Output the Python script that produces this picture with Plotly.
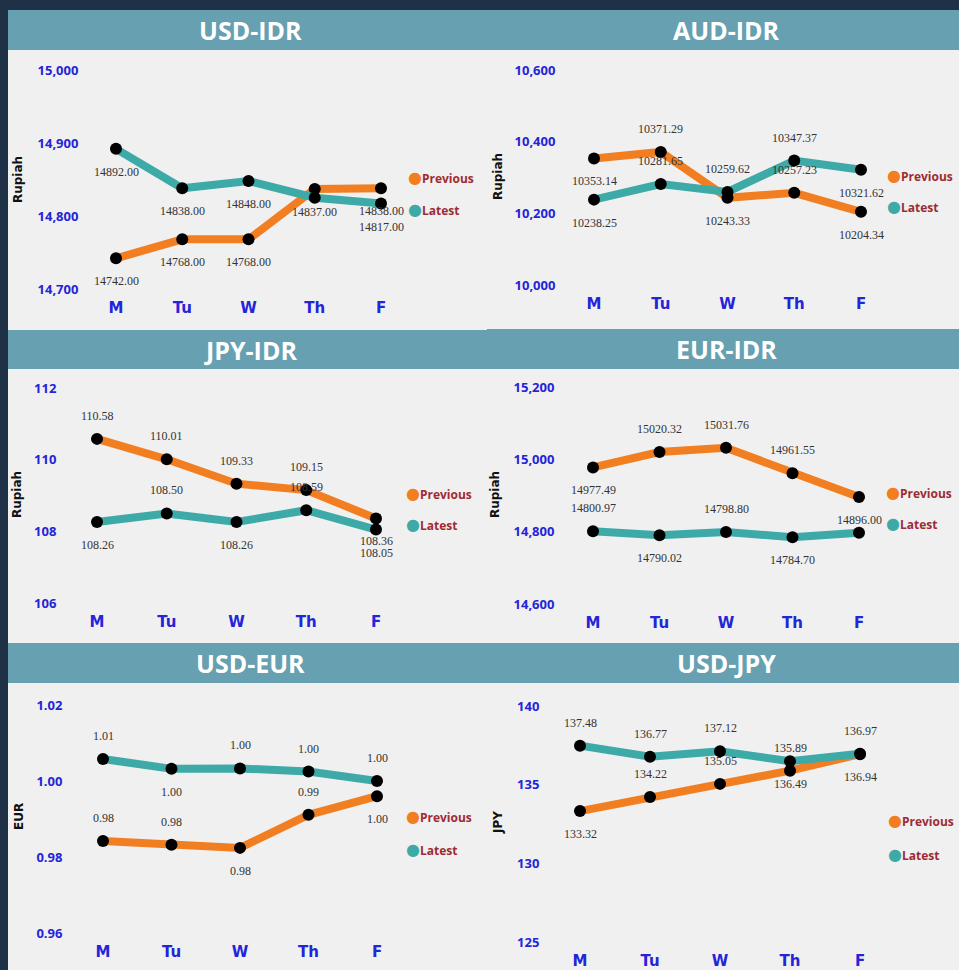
import plotly.graph_objects as go

# ---- data -------------------------------------------------------------
days = ["M", "Tu", "W", "Th", "F"]

usd_idr_prev = [14742.00, 14768.00, 14768.00, 14837.00, 14838.00]
usd_idr_latest = [14892.00, 14838.00, 14848.00, 14825.00, 14817.00]

aud_idr_prev = [10353.14, 10371.29, 10243.33, 10257.23, 10204.34]
aud_idr_latest = [10238.25, 10281.65, 10259.62, 10347.37, 10321.62]

jpy_idr_prev = [110.58, 110.01, 109.33, 109.15, 108.36]
jpy_idr_latest = [108.26, 108.50, 108.26, 108.59, 108.05]

eur_idr_prev = [14977.49, 15020.32, 15031.76, 14961.55, 14896.00]
eur_idr_latest = [14800.97, 14790.02, 14798.80, 14784.70, 14797.00]

usd_eur_prev = [0.9842, 0.9832, 0.9824, 0.9911, 0.9960]
usd_eur_latest = [1.0058, 1.0032, 1.0033, 1.0025, 1.0000]

usd_jpy_prev = [133.32, 134.22, 135.05, 135.89, 136.94]
usd_jpy_latest = [137.48, 136.77, 137.12, 136.49, 136.97]

titles = ["USD-IDR", "AUD-IDR", "JPY-IDR", "EUR-IDR", "USD-EUR", "USD-JPY"]
axis_titles = ["Rupiah", "Rupiah", "Rupiah", "Rupiah", "EUR", "JPY"]
series_names = ["Previous", "Latest"]
y_ticks = [
    [14700, 14800, 14900, 15000],
    [10000, 10200, 10400, 10600],
    [106, 108, 110, 112],
    [14600, 14800, 15000, 15200],
    [0.96, 0.98, 1.00, 1.02],
    [125, 130, 135, 140],
]
y_tickformats = [",", ",", "d", ",", ".2f", "d"]
label_decimals = [2, 2, 2, 2, 2, 2]

panel_series = [
    (usd_idr_prev, usd_idr_latest),
    (aud_idr_prev, aud_idr_latest),
    (jpy_idr_prev, jpy_idr_latest),
    (eur_idr_prev, eur_idr_latest),
    (usd_eur_prev, usd_eur_latest),
    (usd_jpy_prev, usd_jpy_latest),
]

# ---- styling ----------------------------------------------------------
W, H = 959, 970
BG_DARK = "#1f3146"
PANEL_BG = "#f0f0f0"
BAR_BG = "#67a1b1"
ORANGE = "#f27e22"
TEAL = "#3eaaa8"
TICK_BLUE = "#2424d8"
LEGEND_RED = "#9e2b32"
LABEL_GREY = "#333333"

# label placement per point: 1 = above, -1 = below, 0 = no label
label_side = [
    ([-1, -1, -1, -1, -1], [-1, -1, -1, 0, -1]),
    ([-1, 1, -1, 1, -1], [-1, 1, 1, 1, -1]),
    ([1, 1, 1, 1, -1], [-1, 1, -1, 1, -1]),
    ([-1, 1, 1, 1, -1], [1, -1, 1, -1, 0]),
    ([1, 1, -1, 1, -1], [1, -1, 1, 1, 1]),
    ([-1, 1, 1, 1, -1], [1, 1, 1, -1, 1]),
]

# panel geometry in pixels
panels = [
    dict(x0=8, x1=487, bar0=10, bar1=50, bg1=330, ytop=70, ybot=289, tickr=79,
         m=116, f=381, ytx=18, yty=180, lgx=413, lgy=(177, 209)),
    dict(x0=487, x1=959, bar0=10, bar1=50, bg1=330, ytop=70, ybot=285, tickr=556,
         m=594, f=861, ytx=498, yty=177, lgx=892, lgy=(175, 206)),
    dict(x0=8, x1=487, bar0=330, bar1=369, bg1=643, ytop=388, ybot=603, tickr=57,
         m=97, f=376, ytx=17, yty=495, lgx=411, lgy=(493, 524)),
    dict(x0=487, x1=959, bar0=329, bar1=369, bg1=643, ytop=387, ybot=604, tickr=555,
         m=593, f=859, ytx=495, yty=495, lgx=891, lgy=(492, 523)),
    dict(x0=8, x1=487, bar0=643, bar1=683, bg1=970, ytop=705, ybot=933, tickr=63,
         m=103, f=377, ytx=19, yty=817, lgx=411, lgy=(816, 849)),
    dict(x0=487, x1=959, bar0=643, bar1=683, bg1=970, ytop=706, ybot=942, tickr=540,
         m=580, f=860, ytx=498, yty=823, lgx=893, lgy=(820, 854)),
]


def fx(px):
    return px / W


def fy(py):
    return 1 - py / H


fig = go.Figure()
shapes = []
annotations = []
layout_axes = {}

for i, (p, (prev, latest)) in enumerate(zip(panels, panel_series)):
    n = i + 1
    xa = "x" if n == 1 else f"x{n}"
    ya = "y" if n == 1 else f"y{n}"

    # panel background and title bar
    shapes.append(dict(type="rect", xref="paper", yref="paper", layer="below",
                       x0=fx(p["x0"]), x1=fx(p["x1"]), y0=fy(p["bg1"]), y1=fy(p["bar1"]),
                       fillcolor=PANEL_BG, line=dict(width=0)))
    shapes.append(dict(type="rect", xref="paper", yref="paper", layer="below",
                       x0=fx(p["x0"]), x1=fx(p["x1"]), y0=fy(p["bar1"]), y1=fy(p["bar0"]),
                       fillcolor=BAR_BG, line=dict(width=0)))
    annotations.append(dict(xref="paper", yref="paper", showarrow=False,
                            x=fx((p["x0"] + p["x1"]) / 2 + 3), y=fy((p["bar0"] + p["bar1"]) / 2),
                            xanchor="center", yanchor="middle", text=f"<b>{titles[i]}</b>",
                            font=dict(family="Open Sans", size=25, color="white")))

    # axis title
    annotations.append(dict(xref="paper", yref="paper", showarrow=False,
                            x=fx(p["ytx"]), y=fy(p["yty"]), textangle=-90,
                            xanchor="center", yanchor="middle", text=f"<b>{axis_titles[i]}</b>",
                            font=dict(family="DejaVu Sans", size=12, color="#111111")))

    # legend entries: coloured dot followed by the series name
    for name, col, ly in zip(series_names, (ORANGE, TEAL), p["lgy"]):
        annotations.append(dict(
            xref="paper", yref="paper", showarrow=False,
            x=fx(p["lgx"] - 7), y=fy(ly), xanchor="left", yanchor="middle",
            text=(f"<span style='color:{col};font-family:DejaVu Sans;font-size:16px'>●</span>"
                  f"<b>{name}</b>"),
            font=dict(family="Open Sans", size=12, color=LEGEND_RED)))

    # axes
    sp = (p["f"] - p["m"]) / 4
    dom_l = p["tickr"] + 5
    dom_r = p["f"] + 0.55 * sp
    yt = y_ticks[i]
    layout_axes["xaxis" if n == 1 else f"xaxis{n}"] = dict(
        domain=[fx(dom_l), fx(dom_r)], anchor=ya, type="category",
        categoryorder="array", categoryarray=days,
        range=[-(p["m"] - dom_l) / sp, 4 + (dom_r - p["f"]) / sp],
        showgrid=False, zeroline=False, showline=False,
        ticks="outside", ticklen=5, tickcolor="rgba(0,0,0,0)",
        tickfont=dict(family="DejaVu Sans", size=15, color=TICK_BLUE, weight="bold"),
        fixedrange=True)
    layout_axes["yaxis" if n == 1 else f"yaxis{n}"] = dict(
        domain=[fy(p["ybot"]), fy(p["ytop"])], anchor=xa,
        range=[yt[0], yt[-1]], tickvals=yt, tickformat=y_tickformats[i],
        showgrid=False, zeroline=False, showline=False,
        ticks="outside", ticklen=2, tickcolor="rgba(0,0,0,0)",
        tickfont=dict(family="Open Sans", size=13, color=TICK_BLUE, weight="bold"),
        fixedrange=True)

    # series lines and point labels
    for vals, col, name, sides in zip((prev, latest), (ORANGE, TEAL), series_names, label_side[i]):
        fig.add_trace(go.Scatter(
            x=days, y=vals, name=name, mode="lines+markers",
            line=dict(color=col, width=8),
            marker=dict(color="black", size=12),
            xaxis=xa, yaxis=ya, showlegend=False, cliponaxis=False))
        for d, v, s in zip(days, vals, sides):
            if s == 0:
                continue
            annotations.append(dict(
                xref=xa, yref=ya, x=d, y=v, showarrow=False,
                text=f"{v:.{label_decimals[i]}f}", yshift=23 * s,
                xanchor="center", yanchor="middle",
                font=dict(family="Liberation Serif", size=12, color=LABEL_GREY)))

fig.update_layout(
    width=W, height=H,
    margin=dict(l=0, r=0, t=0, b=0, pad=0, autoexpand=False),
    paper_bgcolor=BG_DARK, plot_bgcolor="rgba(0,0,0,0)",
    shapes=shapes, annotations=annotations, showlegend=False,
    **layout_axes)

fig.write_html("out.html")
